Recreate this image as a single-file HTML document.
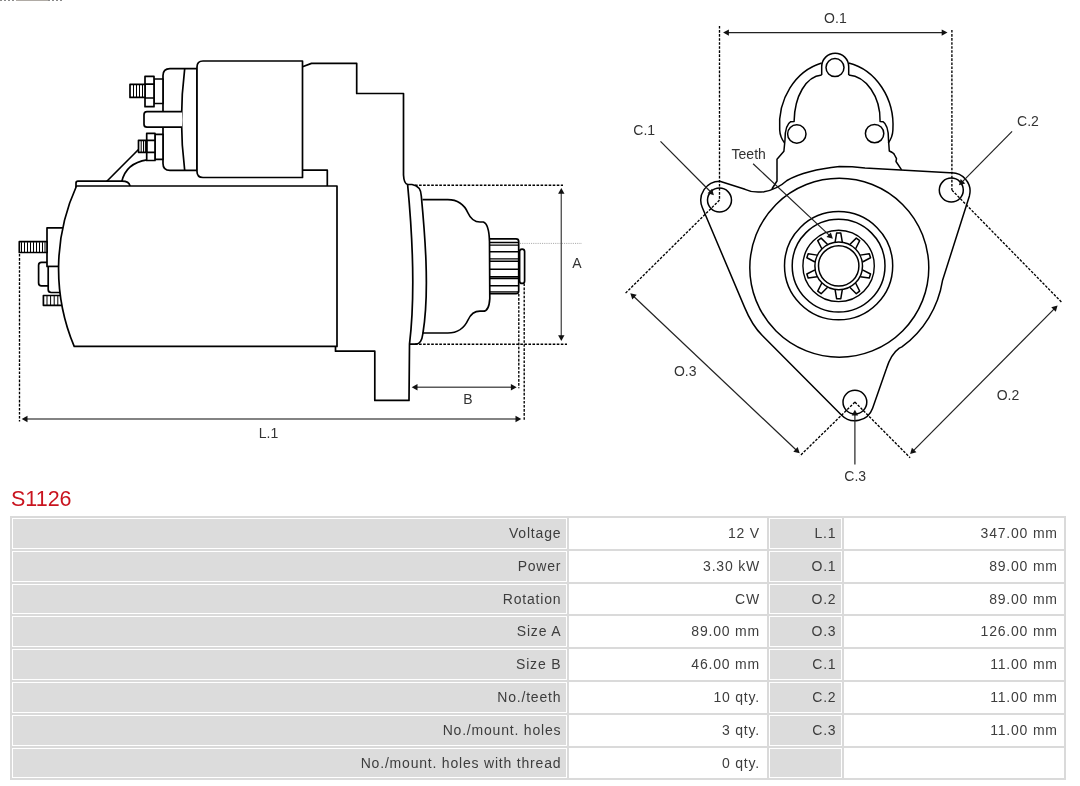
<!DOCTYPE html>
<html><head><meta charset="utf-8">
<style>
html,body{margin:0;padding:0;background:#fff;}
body{width:1080px;height:786px;position:relative;overflow:hidden;font-family:"Liberation Sans",sans-serif;}
svg{position:absolute;left:0;top:0;will-change:transform;}
.tbl,.ttl{will-change:transform;}
.ttl{position:absolute;left:11px;top:485px;font-size:21.5px;color:#c9141f;line-height:28px;}
.tbl{position:absolute;left:10px;top:516px;width:1056px;height:264.4px;background:#dadada;}
.c{position:absolute;box-sizing:border-box;border:1px solid #fff;height:30.8px;line-height:28.8px;text-align:right;font-size:14px;color:#3d3d3d;white-space:nowrap;letter-spacing:0.8px;}
.g{background:#dcdcdc;}
.w{background:#fff;}
.a{left:2px;width:555px;padding-right:4.7px;}
.b{left:559px;width:198px;padding-right:6px;}
.d{left:759px;width:73px;padding-right:4.6px;}
.e{left:834px;width:220px;padding-right:5.2px;}
</style></head>
<body>
<svg width="1080" height="786" viewBox="0 0 1080 786">
<g fill="#fff" stroke="#000" stroke-width="1.7" stroke-linejoin="round">
<!-- left end components (drawn before motor body) -->
<path d="M49 262.3 L41.5 262.3 Q38.6 262.3 38.6 265.2 L38.6 282.9 Q38.6 285.8 41.5 285.8 L49 285.8"/>
<path d="M66 227.9 L47 227.9 L47 266.5 L66 266.5 Z"/>
<rect x="19.3" y="241.7" width="27.7" height="10.8"/>
<path d="M66 266.5 L48.2 266.5 L48.2 289.5 Q48.2 292.5 51.2 292.5 L66 292.5 Z"/>
<rect x="43.4" y="295.5" width="22" height="9.8"/>
<!-- wires + pad -->
<path d="M106.6 181.5 L138.5 149.5" fill="none"/>
<path d="M121.8 181.5 Q126 163 147 159.8" fill="none"/>
<path d="M76 190 L76 183 Q76 181.2 78 181.2 L122 181.2 Q129 181.2 130 186 L130 190 Z"/>
<!-- motor body -->
<path d="M76.5 186 L337 186 L337 346.4 L74.2 346.4 A200.3 200.3 0 0 1 76.5 186 Z"/>
<!-- step -->
<path d="M302.5 170.2 L327.3 170.2 L327.3 186" fill="none"/>
<!-- solenoid cap -->
<path d="M197 68.6 L170 68.6 Q163 68.6 163 75.6 L163 163.4 Q163 170.4 170 170.4 L197 170.4 Z"/>
<path d="M184.7 68.6 Q178.3 119.5 184.7 170.4" fill="none"/>
<!-- solenoid body -->
<path d="M302.5 61 L203 61 Q197 61 197 67 L197 171.5 Q197 177.5 203 177.5 L302.5 177.5 Z"/>
<!-- upper terminal -->
<rect x="154" y="79" width="9" height="24.5"/>
<rect x="145" y="76.4" width="9" height="30.3"/>
<path d="M145 84.2 H154 M145 98 H154" fill="none"/>
<rect x="130" y="84.4" width="15" height="13"/>
<!-- middle tab -->
<path d="M182 111.7 L147 111.7 Q144 111.7 144 114.7 L144 124.2 Q144 127.2 147 127.2 L182 127.2"/>
<!-- lower terminal -->
<rect x="155" y="134.3" width="8" height="25"/>
<rect x="146.7" y="133.4" width="8.3" height="27.1"/>
<path d="M146.7 140.3 H155 M146.7 152.3 H155" fill="none"/>
<rect x="138.5" y="140.3" width="8.2" height="12"/>
<!-- housing -->
<path d="M302.5 66.8 L311.5 63.4 L356.7 63.4 L356.7 93.5 L403.5 93.5 L403.5 175 Q404 184 407.6 184.3 L412 184.5 Q421 186 421.3 196 C424.5 230 430 290 422.9 333.5 Q421.5 344.2 416 344.2 L409.5 344.2" fill="none"/>
<path d="M407.6 184.3 C411 220 416 290 409.5 344.2 L409 400.4 L374.8 400.4 L374.8 351.2 L335.5 351.2 L335.5 346.4" fill="none"/>
<!-- nose -->
<path d="M422.5 199.7 L447.8 199.7 Q462 199.7 468 213 Q472 222 480 222 L483.3 222 Q489 224 489.5 241.4 L489.8 298.6 Q489 311.2 483.3 311.2 L480 311.2 Q472 311.2 468 320 Q462 333 447.8 333 L422.5 333" fill="none"/>
<!-- pinion -->
<path d="M489.8 238.9 L516 238.9 Q518.7 238.9 518.7 241.5 L518.7 291 Q518.7 293.7 516 293.7 L489.8 293.7" fill="none"/>
<path d="M490 242.5 H518.7 M490 245.1 H518.7 M490 251.8 H518.7 M490 258.9 H518.7 M490 261.2 H518.7 M490 269.2 H518.7 M490 276.7 H518.7 M490 278.5 H518.7 M490 285.7 H518.7 M490 291.9 H518.7" fill="none" stroke-width="1.4"/>
<rect x="519.6" y="249.1" width="5" height="34.3" rx="2.5"/>
</g>
<!-- threads hatch -->
<g stroke="#000" stroke-width="1">
<path d="M133.5 85 V97 M136.5 85 V97 M139.5 85 V97 M142.5 85 V97"/>
<path d="M141.2 140.8 V152 M143.5 140.8 V152 M145.4 140.8 V152"/>
<path d="M21.5 242.2 V252 M24.5 242.2 V252 M27.5 242.2 V252 M30.5 242.2 V252 M33.5 242.2 V252 M36.5 242.2 V252 M39.5 242.2 V252 M42.5 242.2 V252 M45 242.2 V252"/>
<path d="M47 296 V305 M50.6 296 V305 M54.2 296 V305 M57.8 296 V305"/>
</g>
<g fill="none" stroke="#000" stroke-width="1.35" stroke-dasharray="2.6 1.45">
<path d="M19.5 254 V421.5"/>
<path d="M415 185.2 H563 M415 344.2 H567"/>
<path d="M518.8 294 V388.3 M524.2 283.5 V420.8"/>
</g>
<path d="M520 243.4 H582" stroke="#aaa" stroke-width="1" stroke-dasharray="1.1 1.1"/>
<g stroke="#5a5a5a" stroke-width="1.45"><path d="M26.50 419.00 L516.50 419.00" fill="none"/><path d="M416.50 387.20 L511.90 387.20" fill="none"/><path d="M561.30 192.80 L561.30 336.20" fill="none"/></g>
<g fill="#111" stroke="none"><path d="M21.70 419.00 L27.50 415.80 L27.50 422.20 Z"/><path d="M521.30 419.00 L515.50 422.20 L515.50 415.80 Z"/><path d="M411.70 387.20 L417.50 384.00 L417.50 390.40 Z"/><path d="M516.70 387.20 L510.90 390.40 L510.90 384.00 Z"/><path d="M561.30 188.00 L564.50 193.80 L558.10 193.80 Z"/><path d="M561.30 341.00 L558.10 335.20 L564.50 335.20 Z"/></g>

<g font-family="Liberation Sans, sans-serif" font-size="14" fill="#333">
<text x="268.5" y="438.3" text-anchor="middle">L.1</text>
<text x="467.8" y="404.2" text-anchor="middle">B</text>
<text x="577" y="268" text-anchor="middle">A</text>
</g>

<!-- ============ FRONT VIEW ============ -->
<g fill="none" stroke="#000" stroke-width="1.5" stroke-linejoin="round">
<!-- outer arch of gear housing -->
<path d="M821.7 63 A56.8 64.15 0 0 0 779.7 130 Q780 137 784.6 143"/>
<path d="M848.7 63 A56.8 64.15 0 0 1 892.9 130 Q892.6 137 888.3 143"/>
<!-- top boss -->
<path d="M821.7 75.1 L821.7 66.7 A13.5 13.5 0 0 1 848.7 66.7 L848.7 75.1"/>
<circle cx="835" cy="67.6" r="9"/>
<!-- inner arch -->
<path d="M821.7 75.1 C806 76.5 794.5 96 794.1 121.4 L790.7 121.7 Q785 125 785 139.7 L783.9 151.2 L777 159.2 L777 181 L771.9 189"/>
<path d="M848.7 75.1 C866 76.5 880.5 96 880.1 121.4 L883 121.7 Q888.5 125 888.5 139.7 L889.3 151 Q894 153 894.6 155 L896.5 158.7 L896 161.5 L901.6 169.8"/>
<circle cx="796.8" cy="134" r="9.2"/>
<circle cx="874.6" cy="133.6" r="9.2"/>
<!-- flange outline -->
<path d="M949.7 172.8 L865 168 Q852 166.6 839.4 166.6 Q806 170 787 180.5 Q777 189.5 764 191.7 Q753 193.2 745 189.3 L719.8 181.2 A19 19 0 0 0 702.3 207.5 L744.6 307.4 Q752.1 325.5 762.3 335.5 L841.4 415 A18.8 18.8 0 0 0 872.6 408.2 L886.3 368.9 Q891 354 899.3 348.1 L901.9 346.9 A102 102 0 0 0 942.5 280.6 L969.4 195.9 A18.5 18.5 0 0 0 949.7 172.8 Z"/>
<!-- holes -->
<circle cx="719.5" cy="200.1" r="12"/>
<circle cx="951.3" cy="190.1" r="12"/>
<circle cx="854.9" cy="402.1" r="11.9"/>
<!-- flange face circles -->
<circle cx="839.3" cy="267.7" r="89.5"/>
<circle cx="838.6" cy="265.7" r="54.1"/>
<circle cx="838.6" cy="265.7" r="46.4"/>
<circle cx="838.6" cy="265.9" r="35.7" stroke-width="1.4"/>
<circle cx="838.7" cy="265.9" r="23.8" stroke-width="1.5"/>
<circle cx="838.7" cy="265.9" r="20.2" stroke-width="1.5"/>
</g>
<!-- teeth -->
<g fill="none" stroke="#000" stroke-width="1.5" stroke-linejoin="round" transform="translate(838.7 265.9)">
<path d="M-3.6 -23.8 L-2.1 -32.8 L2.1 -32.8 L3.6 -23.8" transform="rotate(0)"/>
<path d="M-3.6 -23.8 L-2.1 -32.8 L2.1 -32.8 L3.6 -23.8" transform="rotate(36)"/>
<path d="M-3.6 -23.8 L-2.1 -32.8 L2.1 -32.8 L3.6 -23.8" transform="rotate(72)"/>
<path d="M-3.6 -23.8 L-2.1 -32.8 L2.1 -32.8 L3.6 -23.8" transform="rotate(108)"/>
<path d="M-3.6 -23.8 L-2.1 -32.8 L2.1 -32.8 L3.6 -23.8" transform="rotate(144)"/>
<path d="M-3.6 -23.8 L-2.1 -32.8 L2.1 -32.8 L3.6 -23.8" transform="rotate(180)"/>
<path d="M-3.6 -23.8 L-2.1 -32.8 L2.1 -32.8 L3.6 -23.8" transform="rotate(216)"/>
<path d="M-3.6 -23.8 L-2.1 -32.8 L2.1 -32.8 L3.6 -23.8" transform="rotate(252)"/>
<path d="M-3.6 -23.8 L-2.1 -32.8 L2.1 -32.8 L3.6 -23.8" transform="rotate(288)"/>
<path d="M-3.6 -23.8 L-2.1 -32.8 L2.1 -32.8 L3.6 -23.8" transform="rotate(324)"/>
</g>
<g fill="none" stroke="#000" stroke-width="1.35" stroke-dasharray="2.6 1.45">
<path d="M719.5 26 V200.1"/>
<path d="M951.9 30 V190.1"/>
<path d="M719.5 200.1 L625.3 293.4"/>
<path d="M854.9 402.1 L799.7 456.1"/>
<path d="M854.9 402.1 L910.1 457.7"/>
<path d="M951.9 190.1 L1062.4 303"/>
</g>
<g stroke="#222" stroke-width="1.2"><path d="M727.90 32.60 L942.70 32.60" fill="none"/><path d="M633.79 296.50 L796.21 450.00" fill="none"/><path d="M913.48 450.69 L1054.22 308.81" fill="none"/><path d="M660.50 141.40 L710.52 191.79" fill="none"/><path d="M1012.10 131.30 L962.27 181.88" fill="none"/><path d="M854.90 464.50 L854.90 414.50" fill="none"/><path d="M753.10 163.80 L829.40 235.42" fill="none"/></g>
<g fill="#111" stroke="none"><path d="M723.10 32.60 L728.90 29.40 L728.90 35.80 Z"/><path d="M947.50 32.60 L941.70 35.80 L941.70 29.40 Z"/><path d="M630.30 293.20 L636.71 294.86 L632.32 299.51 Z"/><path d="M799.70 453.30 L793.29 451.64 L797.68 446.99 Z"/><path d="M910.10 454.10 L911.91 447.73 L916.46 452.24 Z"/><path d="M1057.60 305.40 L1055.79 311.77 L1051.24 307.26 Z"/><path d="M713.90 195.20 L707.54 193.34 L712.09 188.83 Z"/><path d="M958.90 185.30 L960.69 178.92 L965.25 183.41 Z"/><path d="M854.90 409.70 L858.10 415.50 L851.70 415.50 Z"/><path d="M832.90 238.70 L826.48 237.06 L830.86 232.40 Z"/></g>

<g font-family="Liberation Sans, sans-serif" font-size="14" fill="#333">
<text x="835.4" y="22.5" text-anchor="middle">O.1</text>
<text x="644.2" y="134.8" text-anchor="middle">C.1</text>
<text x="1028" y="125.7" text-anchor="middle">C.2</text>
<text x="748.7" y="159.3" text-anchor="middle">Teeth</text>
<text x="685.2" y="376.4" text-anchor="middle">O.3</text>
<text x="1008" y="400.2" text-anchor="middle">O.2</text>
<text x="855.2" y="481.3" text-anchor="middle">C.3</text>
</g>
</svg>

<div style="position:absolute;left:0;top:0;width:64px;height:1px;background:repeating-linear-gradient(90deg,#8a8a8a 0 2px,#fff 2px 4px);"></div><div style="position:absolute;left:16px;top:0;width:32px;height:1px;background:#b0aba5;"></div>
<div class="ttl">S1126</div>
<div class="tbl">
<div class="c g a" style="top:2px">Voltage</div><div class="c w b" style="top:2px">12 V</div><div class="c g d" style="top:2px">L.1</div><div class="c w e" style="top:2px">347.00 mm</div>
<div class="c g a" style="top:34.8px">Power</div><div class="c w b" style="top:34.8px">3.30 kW</div><div class="c g d" style="top:34.8px">O.1</div><div class="c w e" style="top:34.8px">89.00 mm</div>
<div class="c g a" style="top:67.6px">Rotation</div><div class="c w b" style="top:67.6px">CW</div><div class="c g d" style="top:67.6px">O.2</div><div class="c w e" style="top:67.6px">89.00 mm</div>
<div class="c g a" style="top:100.4px">Size A</div><div class="c w b" style="top:100.4px">89.00 mm</div><div class="c g d" style="top:100.4px">O.3</div><div class="c w e" style="top:100.4px">126.00 mm</div>
<div class="c g a" style="top:133.2px">Size B</div><div class="c w b" style="top:133.2px">46.00 mm</div><div class="c g d" style="top:133.2px">C.1</div><div class="c w e" style="top:133.2px">11.00 mm</div>
<div class="c g a" style="top:166px">No./teeth</div><div class="c w b" style="top:166px">10 qty.</div><div class="c g d" style="top:166px">C.2</div><div class="c w e" style="top:166px">11.00 mm</div>
<div class="c g a" style="top:198.8px">No./mount. holes</div><div class="c w b" style="top:198.8px">3 qty.</div><div class="c g d" style="top:198.8px">C.3</div><div class="c w e" style="top:198.8px">11.00 mm</div>
<div class="c g a" style="top:231.6px">No./mount. holes with thread</div><div class="c w b" style="top:231.6px">0 qty.</div><div class="c g d" style="top:231.6px"></div><div class="c w e" style="top:231.6px"></div>
</div>
</body></html>
